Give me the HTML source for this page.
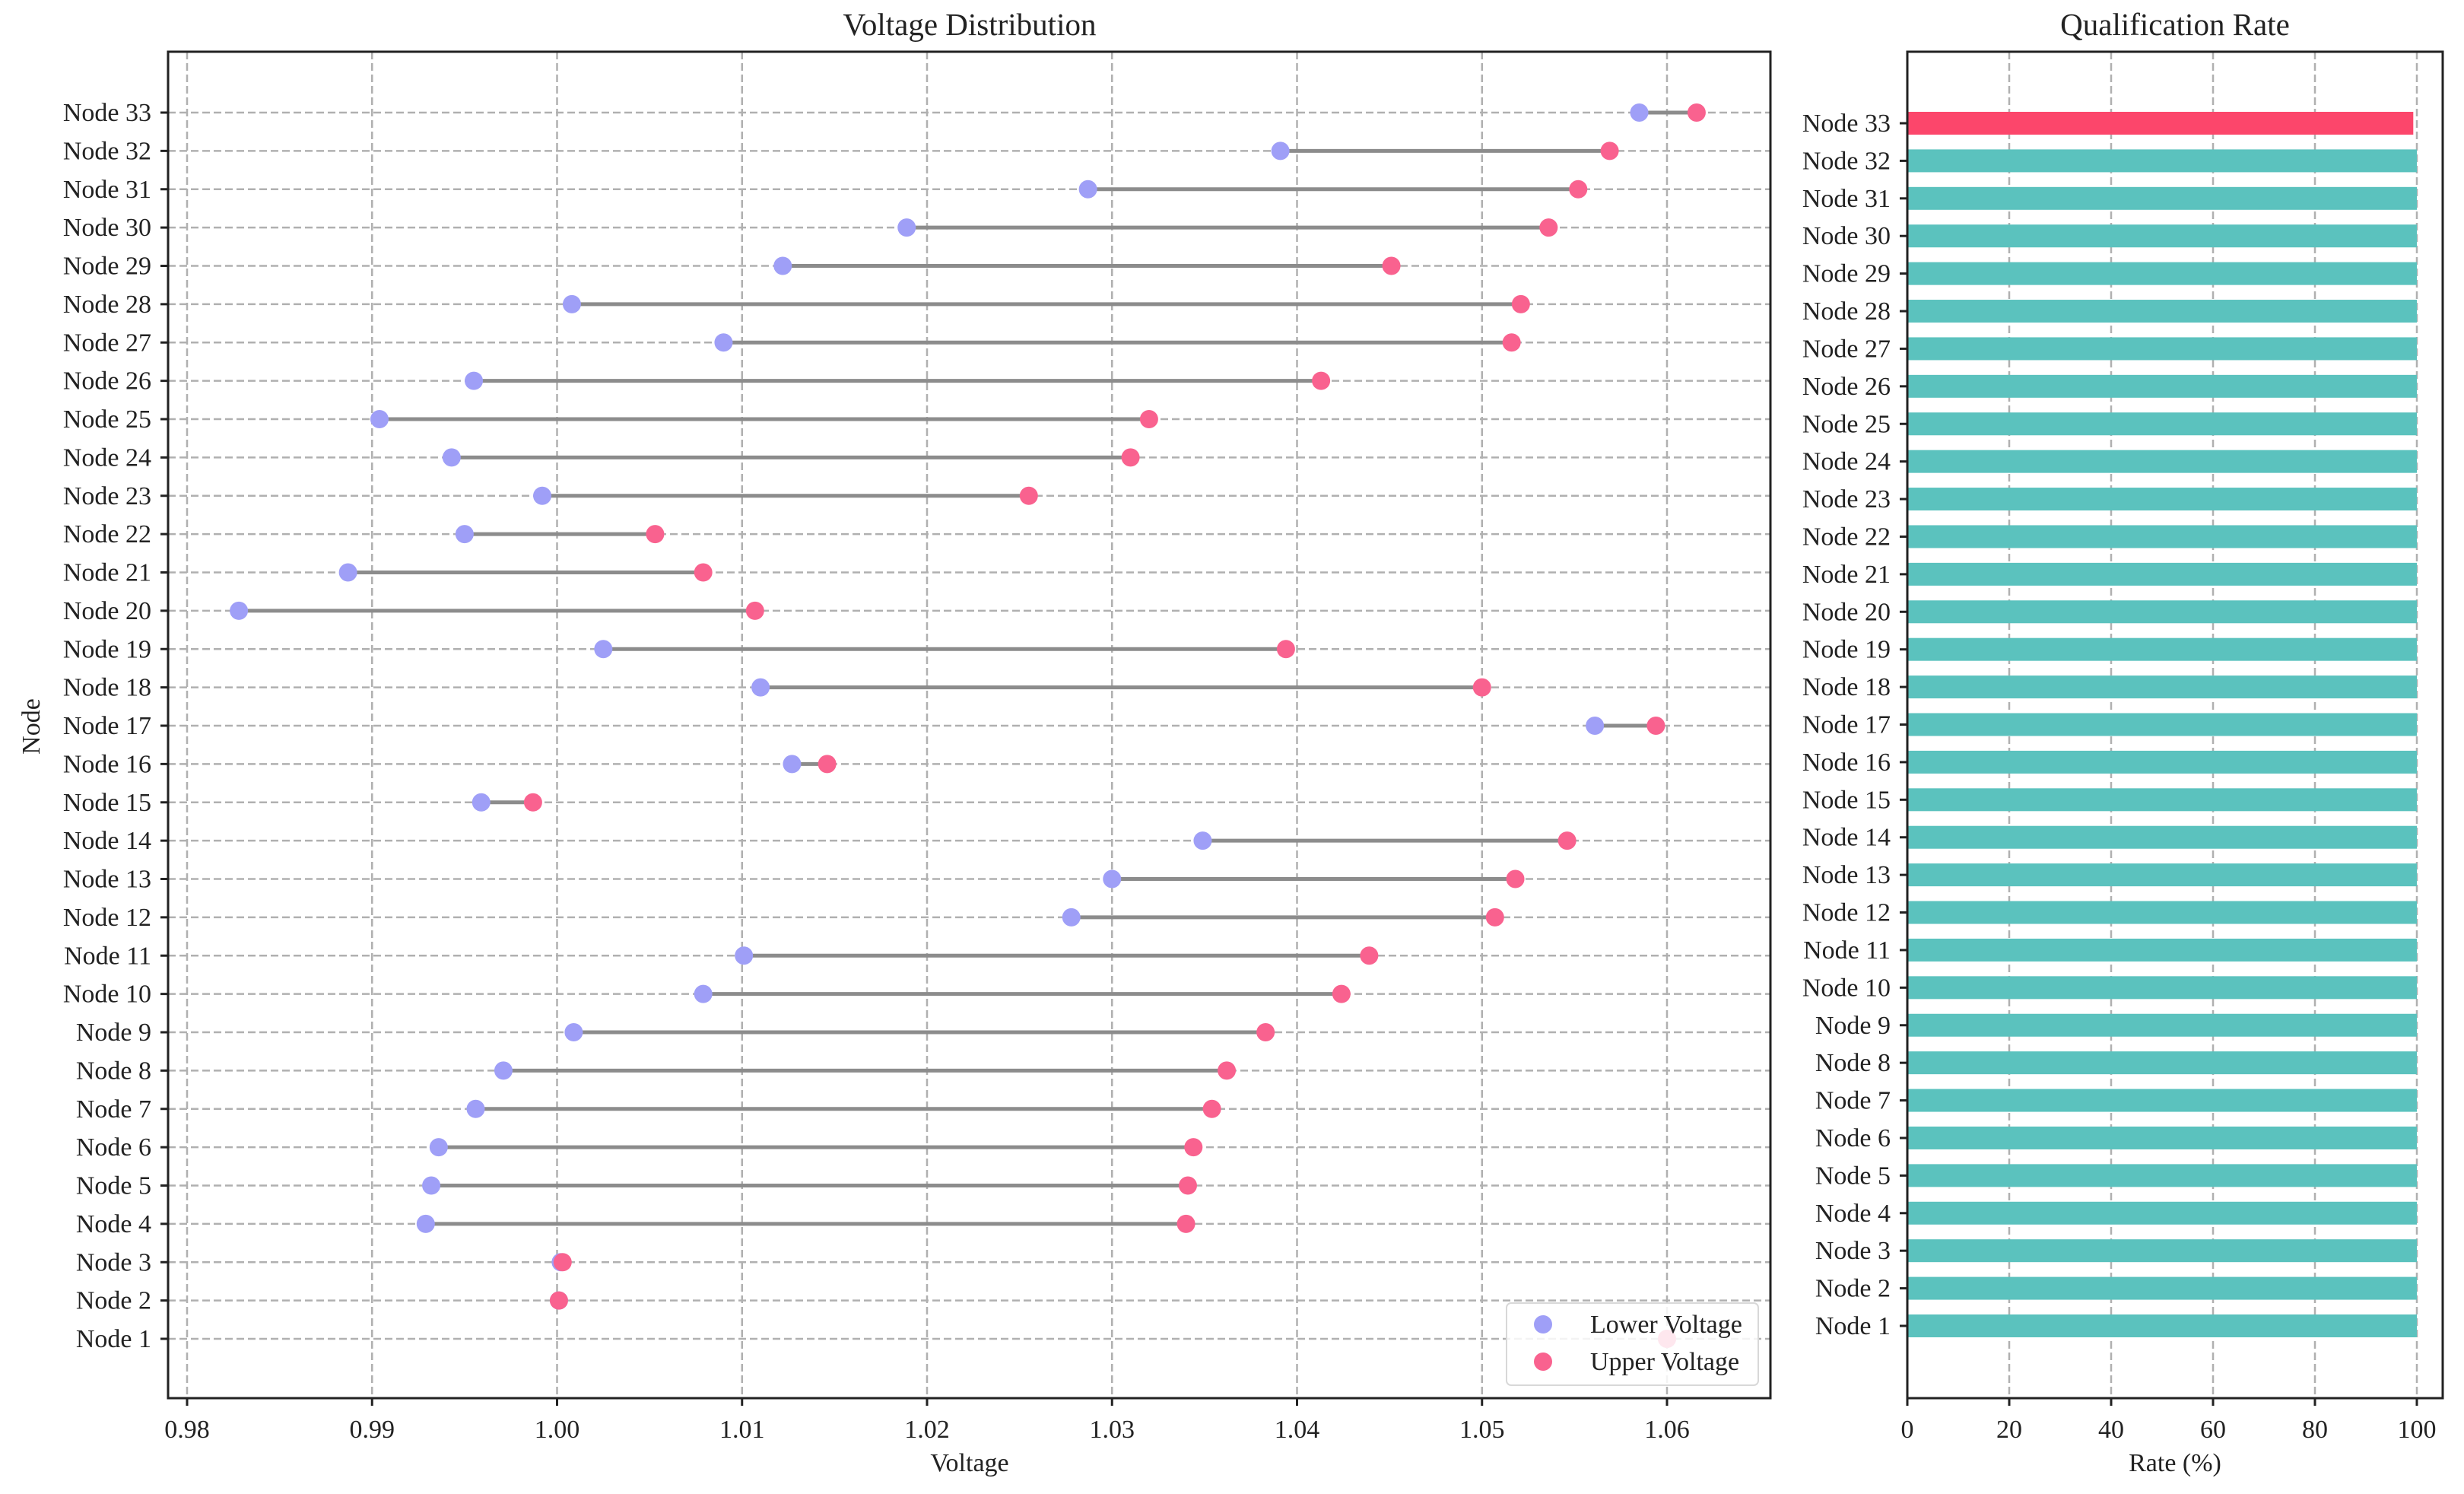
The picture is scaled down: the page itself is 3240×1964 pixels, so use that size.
<!DOCTYPE html>
<html><head><meta charset="utf-8">
<style>
html,body{margin:0;padding:0;background:#fff;}
svg{display:block;font-family:"Liberation Serif",serif;}
</style></head>
<body>
<svg id="chart" width="3240" height="1964" viewBox="0 0 3240 1964" xmlns="http://www.w3.org/2000/svg"></svg>
<script>
const nodes = [];
for (let i = 1; i <= 33; i++) nodes.push('Node ' + i);
const lowerVoltage = [1.060,1.0001,1.0002,0.9929,0.9932,0.9936,0.9956,0.9971,1.0009,1.0079,1.0101,1.0278,1.0300,1.0349,0.9959,1.0127,1.0561,1.0110,1.0025,0.9828,0.9887,0.9950,0.9992,0.9943,0.9904,0.9955,1.0090,1.0008,1.0122,1.0189,1.0287,1.0391,1.0585];
const upperVoltage = [1.060,1.0001,1.0003,1.0340,1.0341,1.0344,1.0354,1.0362,1.0383,1.0424,1.0439,1.0507,1.0518,1.0546,0.9987,1.0146,1.0594,1.0500,1.0394,1.0107,1.0079,1.0053,1.0255,1.0310,1.0320,1.0413,1.0516,1.0521,1.0451,1.0536,1.0552,1.0569,1.0616];
const rates = [100,100,100,100,100,100,100,100,100,100,100,100,100,100,100,100,100,100,100,100,100,100,100,100,100,100,100,100,100,100,100,100,99.3];
const voltTicks = [0.98,0.99,1.00,1.01,1.02,1.03,1.04,1.05,1.06];
const rateTicks = [0,20,40,60,80,100];

const NS = 'http://www.w3.org/2000/svg';
const svg = document.getElementById('chart');
function mk(tag, attrs, parent) {
  const e = document.createElementNS(NS, tag);
  for (const k in attrs) e.setAttribute(k, attrs[k]);
  (parent || svg).appendChild(e);
  return e;
}
function txt(s, attrs, parent) { const e = mk('text', attrs, parent); e.textContent = s; return e; }

const FS = 34;
const L = {x0:221, x1:2328, y0:68, y1:1838};
const xV = v => 246 + (v - 0.98) / 0.08 * (2192 - 246);
const yL = i => 1760 - i * (1760 - 148) / 32;
const R = {x0:2508, x1:3212, y0:68, y1:1838};
const xR = v => 2508 + v / 100 * (3178 - 2508);
const yR = i => 1743 - i * (1743 - 162) / 32;

const gL = mk('g', {});


const gridL = mk('g', {stroke:'#b0b0b0','stroke-width':2.5,'stroke-dasharray':'10,5'}, gL);


voltTicks.forEach(v => mk('line', {x1:xV(v), x2:xV(v), y1:L.y0, y2:L.y1}, gridL));
nodes.forEach((n, i) => mk('line', {x1:L.x0, x2:L.x1, y1:yL(i), y2:yL(i)}, gridL));

nodes.forEach((n, i) => {
  const ln = mk('line', {x1:xV(lowerVoltage[i]), x2:xV(upperVoltage[i]), y1:yL(i), y2:yL(i), stroke:'#8c8c8c','stroke-width':5}, gL);
  
  
});
nodes.forEach((n, i) => {
  const a = mk('circle', {cx:xV(lowerVoltage[i]), cy:yL(i), r:12, fill:'#9f9ff7'}, gL);
  
  
  const b = mk('circle', {cx:xV(upperVoltage[i]), cy:yL(i), r:12, fill:'#f9628f'}, gL);
  
  
});
mk('rect', {x:L.x0, y:L.y0, width:L.x1-L.x0, height:L.y1-L.y0, fill:'none', stroke:'#222','stroke-width':3}, gL);
voltTicks.forEach(v => {
  mk('line', {x1:xV(v), x2:xV(v), y1:L.y1, y2:L.y1+10, stroke:'#222','stroke-width':3}, gL);
  const t = txt(v.toFixed(2), {x:xV(v), y:L.y1+52, 'font-size':FS, 'text-anchor':'middle', fill:'#222'}, gL);
  
  
});
nodes.forEach((n, i) => {
  mk('line', {x1:L.x0-10, x2:L.x0, y1:yL(i), y2:yL(i), stroke:'#222','stroke-width':3}, gL);
  const t = txt(n, {x:L.x0-22, y:yL(i)+11, 'font-size':FS, 'text-anchor':'end', fill:'#222'}, gL);
  
  
});
const t1 = txt('Voltage Distribution', {x:1275, y:46, 'font-size':41, 'text-anchor':'middle', fill:'#222'}, gL);


const xl = txt('Voltage', {x:1275, y:1934, 'font-size':FS, 'text-anchor':'middle', fill:'#222'}, gL);


const yl = txt('Node', {x:0, y:0, 'font-size':FS, 'text-anchor':'middle', fill:'#222', transform:'translate(52,955) rotate(-90)'}, gL);



const lg = mk('g', {}, gL);


mk('rect', {x:1981, y:1713, width:331, height:108, rx:6, fill:'rgba(255,255,255,0.85)', stroke:'#d8d8d8','stroke-width':2}, lg);
const le1 = mk('circle', {cx:2029, cy:1741, r:12, fill:'#9f9ff7'}, lg);


const lt1 = txt('Lower Voltage', {x:2091, y:1752, 'font-size':FS, fill:'#222'}, lg);


const le2 = mk('circle', {cx:2029, cy:1790, r:12, fill:'#f9628f'}, lg);


const lt2 = txt('Upper Voltage', {x:2091, y:1801, 'font-size':FS, fill:'#222'}, lg);



const gR = mk('g', {});


const gridR = mk('g', {stroke:'#b0b0b0','stroke-width':2.5,'stroke-dasharray':'10,5'}, gR);


rateTicks.forEach(v => mk('line', {x1:xR(v), x2:xR(v), y1:R.y0, y2:R.y1}, gridR));
nodes.forEach((n, i) => {
  const b = mk('rect', {x:xR(0), y:yR(i)-15, width:xR(rates[i])-xR(0), height:30, fill: i === 32 ? '#fc466b' : '#5bc2be'}, gR);
  
  
});
mk('rect', {x:R.x0, y:R.y0, width:R.x1-R.x0, height:R.y1-R.y0, fill:'none', stroke:'#222','stroke-width':3}, gR);
rateTicks.forEach(v => {
  mk('line', {x1:xR(v), x2:xR(v), y1:R.y1, y2:R.y1+10, stroke:'#222','stroke-width':3}, gR);
  const t = txt(String(v), {x:xR(v), y:R.y1+52, 'font-size':FS, 'text-anchor':'middle', fill:'#222'}, gR);
  
  
});
nodes.forEach((n, i) => {
  mk('line', {x1:R.x0-10, x2:R.x0, y1:yR(i), y2:yR(i), stroke:'#222','stroke-width':3}, gR);
  const t = txt(n, {x:R.x0-22, y:yR(i)+11, 'font-size':FS, 'text-anchor':'end', fill:'#222'}, gR);
  
  
});
const t2 = txt('Qualification Rate', {x:2860, y:46, 'font-size':41, 'text-anchor':'middle', fill:'#222'}, gR);


const xr = txt('Rate (%)', {x:2860, y:1934, 'font-size':FS, 'text-anchor':'middle', fill:'#222'}, gR);


</script>
</body></html>
